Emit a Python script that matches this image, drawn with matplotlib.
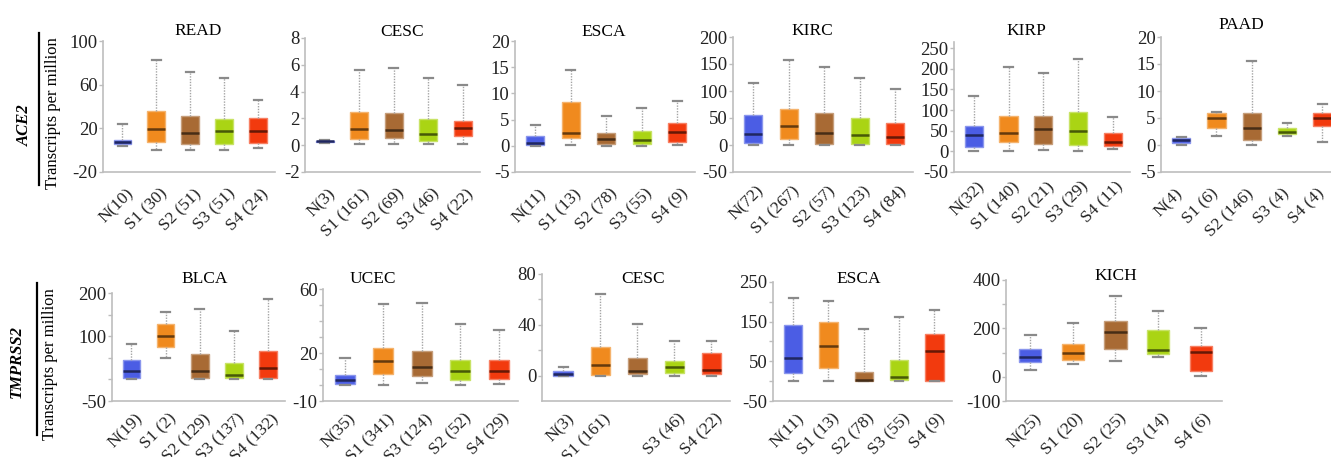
import matplotlib
matplotlib.use("Agg")
import matplotlib.pyplot as plt
import matplotlib.colors as mcolors
from matplotlib.lines import Line2D
from matplotlib.transforms import ScaledTranslation
import numpy as np

plt.rcParams["font.family"] = ["Liberation Serif", "DejaVu Serif"]
plt.rcParams["axes.unicode_minus"] = False

W, H = 1331, 457

# stage colours: N, S1, S2, S3, S4
STAGE_COLORS = ["#4B5DE4", "#F08A1E", "#A86A34", "#AAD414", "#F23A0E"]

# five-number summaries per group: [whisker low, q1, median, q3, whisker high]
ACE2_READ = [[4, 5.5, 7.3, 9.4, 24], [-0.3, 7.3, 19, 36, 82.4], [0.3, 5.8, 16, 31.6, 71.7],
             [0.3, 5.8, 18, 29, 65.7], [1.8, 7, 18, 29.8, 46]]
ACE2_CESC = [[0.2, 0.25, 0.3, 0.35, 0.4], [0.08, 0.5, 1.2, 2.5, 5.6], [0.08, 0.55, 1.1, 2.4, 5.75],
             [0.08, 0.3, 0.8, 1.95, 5.0], [0.1, 0.7, 1.3, 1.8, 4.5]]
ACE2_ESCA = [[0, 0.06, 0.6, 1.8, 3.9], [0.2, 1.5, 2.4, 8.4, 14.5], [0, 0.4, 1.3, 2.5, 5.6],
             [0, 0.4, 1.1, 2.9, 7.2], [0.2, 0.8, 2.6, 4.3, 8.5]]
ACE2_KIRC = [[0, 3.7, 21, 55, 115], [0, 11.7, 35, 67, 157], [0, 1.2, 22, 59, 145],
             [0, 2.5, 17.8, 50, 123.5], [0, 1, 14.7, 40.5, 104]]
ACE2_KIRP = [[0, 9.7, 39.6, 62.2, 134.9], [0, 21.8, 43.6, 86.4, 205], [3.2, 17.8, 54.1, 85.6, 189],
             [0, 15.3, 49.3, 94.5, 223.7], [4.8, 12.9, 23.4, 45.2, 84]]
ACE2_PAAD = [[0.06, 0.43, 0.93, 1.24, 1.55], [1.7, 3.2, 4.95, 5.9, 6.2], [0, 0.93, 3.2, 5.9, 15.6],
             [1.7, 2.0, 2.5, 3.2, 4.0], [0.6, 3.6, 4.95, 6.0, 7.6]]

TMPRSS2_BLCA = [[1.6, 3, 20, 45, 83], [49, 74, 101.6, 129, 157], [1.6, 3, 20, 58, 163],
                [1.6, 3, 11, 39, 112], [1.6, 4, 26, 65, 187]]
TMPRSS2_UCEC = [[-0.2, 0.45, 2.9, 6, 16.9], [0.2, 7, 15.2, 23, 50.6], [1.5, 5.6, 11.5, 21, 51.2],
                [-0.2, 2.9, 8.7, 15.6, 38.4], [0.45, 3.5, 9, 15.6, 34.1]]
TMPRSS2_CESC = [[-0.5, -0.3, 1.3, 3.5, 6.7], [0, 0.8, 8, 22.7, 64], [0, 1.3, 4, 13.9, 40.5],
                [0, 2.1, 6.7, 11.2, 27.5], [0, 1.3, 4.8, 18.1, 27.2]]
TMPRSS2_ESCA = [[0, 20.6, 58.4, 142.4, 210.5], [0, 33, 88.7, 149, 202], [0, 0, 4, 23, 132],
                [0, 2, 10.5, 52.5, 163], [0, 0.4, 76, 120, 178.6]]
TMPRSS2_KICH = [[29.4, 60.8, 81, 115, 172.5], [52.6, 67.6, 100, 134, 223], [66, 115, 186, 231, 333],
                [80, 93.5, 111, 193, 270.6], [5, 22.6, 104, 129, 202.5]]

# group labels
LBL_READ = ["N(10)", "S1 (30)", "S2 (51)", "S3 (51)", "S4 (24)"]
LBL_CESC1 = ["N(3)", "S1 (161)", "S2 (69)", "S3 (46)", "S4 (22)"]
LBL_ESCA = ["N(11)", "S1 (13)", "S2 (78)", "S3 (55)", "S4 (9)"]
LBL_KIRC = ["N(72)", "S1 (267)", "S2 (57)", "S3 (123)", "S4 (84)"]
LBL_KIRP = ["N(32)", "S1 (140)", "S2 (21)", "S3 (29)", "S4 (11)"]
LBL_PAAD = ["N(4)", "S1 (6)", "S2 (146)", "S3 (4)", "S4 (4)"]
LBL_BLCA = ["N(19)", "S1 (2)", "S2 (129)", "S3 (137)", "S4 (132)"]
LBL_UCEC = ["N(35)", "S1 (341)", "S3 (124)", "S2 (52)", "S4 (29)"]
LBL_CESC2 = ["N(3)", "S1 (161)", "", "S3 (46)", "S4 (22)"]
LBL_KICH = ["N(25)", "S1 (20)", "S2 (25)", "S3 (14)", "S4 (6)"]

# title, data, labels, (ymin, ymax), major ticks, minor ticks,
# pixel box (left, right, top, bottom), title (x, baseline), label (pad, dx)
PANELS = [
    ("READ", ACE2_READ, LBL_READ, (-20, 100), [100, 60, 20, -20], [], (103, 275, 41, 172), (198, 35), (10, 3)),
    ("CESC", ACE2_CESC, LBL_CESC1, (-2, 8), [8, 6, 4, 2, 0, -2], [], (305, 480, 38, 172), (402, 36), (10, 3)),
    ("ESCA", ACE2_ESCA, LBL_ESCA, (-5, 20), [20, 15, 10, 5, 0, -5], [], (515, 695, 41, 172), (604, 36), (10, 3)),
    ("KIRC", ACE2_KIRC, LBL_KIRC, (-50, 200), [200, 150, 100, 50, 0, -50], [], (733, 913, 37, 172), (812, 35), (8, 3)),
    ("KIRP", ACE2_KIRP, LBL_KIRP, (-50, 265), [250, 200, 150, 100, 50, 0, -50], [], (954, 1130, 42, 172), (1026, 35), (5, 3)),
    ("PAAD", ACE2_PAAD, LBL_PAAD, (-5, 20), [20, 15, 10, 5, 0, -5], [], (1161, 1340, 37, 172), (1241, 29), (10, -6)),
    ("BLCA", TMPRSS2_BLCA, LBL_BLCA, (-50, 200), [200, 100, -50], [150, 50, 0], (112, 285, 293, 401), (205, 283), (7, 3)),
    ("UCEC", TMPRSS2_UCEC, LBL_UCEC, (-10, 60), [60, 20, -10], [50, 40, 30, 10, 0], (323, 518, 289, 401), (373, 283), (7, 3)),
    ("CESC", TMPRSS2_CESC, LBL_CESC2, (-20, 80), [80, 40, 0], [60, 20], (542, 730, 274, 401), (643, 283), (7, 3)),
    ("ESCA", TMPRSS2_ESCA, LBL_ESCA, (-50, 250), [250, 150, 50, -50], [200, 100, 0], (773, 952, 282, 401), (859, 283), (7, 3)),
    ("KICH", TMPRSS2_KICH, LBL_KICH, (-100, 400), [400, 200, 0, -100], [300, 100], (1006, 1222, 280, 401), (1116, 280), (7, 3)),
]

GRID = "#bdbdbd"


def shade(c, f):
    r = np.array(mcolors.to_rgb(c))
    return tuple(r * f) if f < 1 else tuple(r + (1 - r) * (f - 1))


fig = plt.figure(figsize=(W / 100, H / 100), dpi=100)

for title, data, labels, ylim, major, minor, (l, r, t, b), (tx, ty), (lpad, ldx) in PANELS:
    ax = fig.add_axes([l / W, 1 - b / H, (r - l) / W, (b - t) / H])
    stats = [dict(whislo=s[0], q1=s[1], med=s[2], q3=s[3], whishi=s[4], fliers=[])
             for s in data]
    bp = ax.bxp(stats, positions=range(5), widths=0.52, capwidths=0.25,
                patch_artist=True, showfliers=False,
                whiskerprops=dict(color="#a5a5a5", lw=1.0, ls=(0, (1, 1))),
                capprops=dict(color="#8a8a8a", lw=1.6),
                medianprops=dict(lw=1.8))
    for i, c in enumerate(STAGE_COLORS):
        bp["boxes"][i].set_facecolor(c)
        bp["boxes"][i].set_edgecolor(shade(c, 1.35))
        bp["boxes"][i].set_linewidth(1.0)
        bp["medians"][i].set_color(shade(c, 0.42))

    ax.set_xlim(-0.57, 4.5)
    ax.set_ylim(*ylim)
    ax.set_yticks(major)
    ax.set_yticks(minor, minor=True)
    for s in ("top", "right"):
        ax.spines[s].set_visible(False)
    for s in ("left", "bottom"):
        ax.spines[s].set_color(GRID)
        ax.spines[s].set_linewidth(1.2)
    ax.tick_params(axis="y", which="both", colors=GRID, labelcolor="#222222",
                   labelsize=13.5, length=3, width=1, pad=1)
    ax.set_xticks(range(5), labels, rotation=45, ha="right", va="top",
                  rotation_mode="anchor")
    ax.tick_params(axis="x", length=0, pad=lpad, labelsize=12.5, labelcolor="#222222")
    for lbl in ax.get_xticklabels():
        lbl.set_transform(lbl.get_transform() + ScaledTranslation(ldx / 100, 0, fig.dpi_scale_trans))
    ax.patch.set_alpha(0)

    fig.text(tx / W, 1 - ty / H, title, ha="center", va="baseline", fontsize=12.5)

# row labels
for name, x_name, y_name, x_line, x_unit, y_mid, y0, y1 in [
        ("ACE2", 25, 125, 39, 53, 113, 33, 185),
        ("TMPRSS2", 17, 362, 37, 50, 364, 283, 435)]:
    fig.text(x_name / W, 1 - y_name / H, name, rotation=90, ha="center", va="center",
             fontsize=12, fontweight="bold", fontstyle="italic")
    fig.add_artist(Line2D([x_line / W, x_line / W], [1 - y0 / H, 1 - y1 / H],
                          color="black", lw=1.6, transform=fig.transFigure))
    fig.text(x_unit / W, 1 - y_mid / H, "Transcripts per million", rotation=90,
             ha="center", va="center", fontsize=12)

fig.savefig("out.png", dpi=100)
